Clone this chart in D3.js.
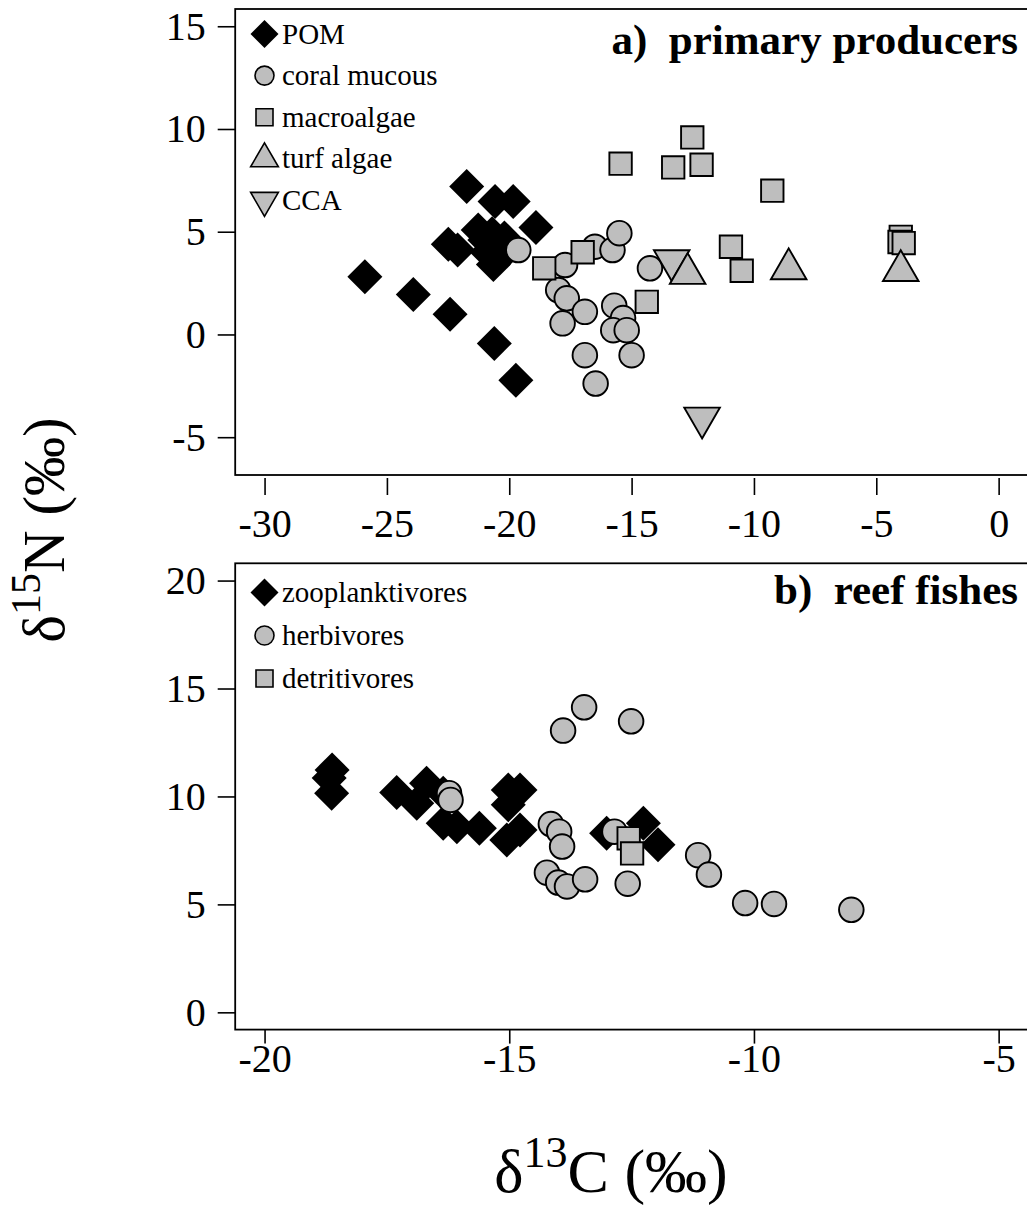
<!DOCTYPE html>
<html>
<head>
<meta charset="utf-8">
<script src="https://cdn.jsdelivr.net/npm/d3@7"></script>
<style>
body { margin: 0; background: #fff; }
svg { display: block; }
text { font-family: "Liberation Serif", "Times New Roman", serif; fill: #000; }
</style>
</head>
<body>
<svg id="chart" width="1027" height="1205"></svg>
<script>
// ---- panel a: primary producers (d13C, d15N) ----
var pom = [[-21.74, 7.20], [-20.58, 6.47], [-19.84, 6.47], [-18.91, 5.20], [-22.49, 4.39],
  [-22.11, 4.11], [-21.27, 5.09], [-21.0, 4.6], [-20.7, 4.9], [-20.4, 4.4], [-20.65, 3.4],
  [-20.2, 4.7], [-20.0, 4.2], [-20.9, 4.0], [-25.90, 2.81], [-23.92, 1.95], [-22.42, 0.98],
  [-20.61, -0.44], [-19.73, -2.23]];
var coralMucous = [[-19.63, 4.11], [-17.72, 3.38], [-18.0, 2.16], [-17.65, 1.76], [-17.82, 0.54],
  [-16.91, 1.10], [-16.91, -1.01], [-16.47, -2.39], [-16.5, 4.27], [-15.78, 4.11], [-15.5, 4.93],
  [-15.71, 1.40], [-15.35, 0.80], [-15.75, 0.21], [-15.2, 0.21], [-15.0, -1.01], [-14.25, 3.22]];
var macroalgae = [[-18.57, 3.22], [-17.0, 4.0], [-15.45, 8.31], [-12.52, 9.59], [-13.30, 8.13],
  [-12.14, 8.26], [-9.25, 7.0], [-10.94, 4.27], [-10.50, 3.10], [-14.38, 1.59],
  [-4.0, 4.75], [-4.05, 4.5], [-3.88, 4.45]];
var turfAlgae = [[-12.71, 2.96], [-8.58, 3.19], [-4.0, 3.10]];
var cca = [[-13.36, 3.60], [-12.12, -4.06]];

// ---- panel b: reef fishes ----
var zooplanktivores = [[-18.62, 11.23], [-18.68, 10.85], [-18.63, 10.15], [-17.30, 10.18],
  [-16.69, 10.61], [-16.89, 9.68], [-16.35, 10.15], [-16.35, 8.76], [-16.07, 8.6], [-15.61, 8.53],
  [-15.02, 10.30], [-14.78, 10.30], [-15.02, 9.61], [-14.78, 8.45], [-15.05, 7.98],
  [-13.01, 8.29], [-12.26, 8.76], [-11.96, 7.76]];
var herbivores = [[-13.47, 14.13], [-13.90, 13.05], [-12.51, 13.48], [-16.23, 10.15], [-16.20, 9.84],
  [-14.15, 8.72], [-13.98, 8.37], [-13.92, 7.68], [-14.23, 6.47], [-14.0, 6.01], [-13.82, 5.83],
  [-13.45, 6.16], [-12.85, 8.37], [-12.58, 5.96], [-11.14, 7.28], [-10.92, 6.38], [-10.18, 5.06],
  [-9.59, 5.02], [-8.01, 4.75]];
var detritivores = [[-12.56, 8.06], [-12.49, 7.36]];

var ticksXa = [-30, -25, -20, -15, -10, -5, 0];
var ticksYa = [-5, 0, 5, 10, 15];
var ticksXb = [-20, -15, -10, -5];
var ticksYb = [0, 5, 10, 15, 20];

var labelsA = ["POM", "coral mucous", "macroalgae", "turf algae", "CCA"];
var labelsB = ["zooplanktivores", "herbivores", "detritivores"];

// R-like symbol shapes (size argument is used as the radius)
var diamond = { draw: function(c, r) { c.moveTo(0, -r); c.lineTo(r, 0); c.lineTo(0, r); c.lineTo(-r, 0); c.closePath(); } };
var circle = { draw: function(c, r) { c.moveTo(r, 0); c.arc(0, 0, r, 0, 2 * Math.PI); } };
var square = { draw: function(c, r) { c.rect(-r, -r, 2 * r, 2 * r); } };
var triUp = { draw: function(c, r) { c.moveTo(0, -1.555 * r); c.lineTo(1.347 * r, 0.778 * r); c.lineTo(-1.347 * r, 0.778 * r); c.closePath(); } };
var triDown = { draw: function(c, r) { c.moveTo(0, 1.555 * r); c.lineTo(1.347 * r, -0.778 * r); c.lineTo(-1.347 * r, -0.778 * r); c.closePath(); } };

var grey = "#bebebe";
var styles = {
  pom: { type: diamond, r: 17.5, legendR: 14, fill: "#000", stroke: "none" },
  coral: { type: circle, r: 12.3, legendR: 9.5, fill: grey, stroke: "#000" },
  macro: { type: square, r: 11.2, legendR: 8.5, fill: grey, stroke: "#000" },
  turf: { type: triUp, r: 13.2, legendR: 10.3, fill: grey, stroke: "#000" },
  cca: { type: triDown, r: 13.2, legendR: 10.3, fill: grey, stroke: "#000" }
};

var svg = d3.select("#chart");
var left = 235.2, right = 1028;

function drawPanel(cfg) {
  var x = d3.scaleLinear().domain(cfg.xDomain).range([left, right]);
  var y = d3.scaleLinear().domain(cfg.yDomain).range([cfg.bottom, cfg.top]);
  var g = svg.append("g");

  g.append("g")
      .attr("transform", "translate(" + left + ",0)")
      .call(d3.axisLeft(y).tickValues(cfg.yTicks).tickSize(17.5).tickPadding(12).tickFormat(function(d) { return d; }))
      .call(function(a) {
        a.select(".domain").remove();
        a.selectAll("line").attr("stroke", "#000").attr("stroke-width", 1.6);
        a.selectAll("text").attr("font-size", 40).attr("font-family", "Liberation Serif");
      });

  g.append("g")
      .attr("transform", "translate(0," + (cfg.bottom + cfg.xGap) + ")")
      .call(d3.axisBottom(x).tickValues(cfg.xTicks).tickSize(cfg.xTick).tickPadding(cfg.xPad).tickFormat(function(d) { return d; }))
      .call(function(a) {
        a.select(".domain").remove();
        a.selectAll("line").attr("stroke", "#000").attr("stroke-width", 1.6);
        a.selectAll("text").attr("font-size", 40).attr("font-family", "Liberation Serif");
      });

  cfg.series.forEach(function(s) {
    var st = styles[s.style];
    g.append("g").selectAll("path")
      .data(s.data)
      .enter().append("path")
        .attr("transform", function(d) { return "translate(" + x(d[0]) + "," + y(d[1]) + ")"; })
        .attr("d", d3.symbol().type(st.type).size(st.r))
        .attr("fill", st.fill)
        .attr("stroke", st.stroke)
        .attr("stroke-width", 1.9);
  });

  // box
  g.append("rect")
      .attr("x", left).attr("y", cfg.top)
      .attr("width", right - left).attr("height", cfg.bottom - cfg.top)
      .attr("fill", "none").attr("stroke", "#000").attr("stroke-width", 1.8);

  // legend
  cfg.legend.forEach(function(l, i) {
    var st = styles[l.style];
    var cy = cfg.legendTop + i * cfg.legendStep;
    g.append("path")
        .attr("transform", "translate(264.5," + cy + ")")
        .attr("d", d3.symbol().type(st.type).size(st.legendR))
        .attr("fill", st.fill).attr("stroke", st.stroke).attr("stroke-width", 1.6);
    g.append("text")
        .attr("x", 282).attr("y", cy).attr("dy", "0.33em")
        .attr("font-size", 29)
        .text(l.label);
  });

  g.append("text")
      .attr("x", 1018).attr("y", cfg.titleY)
      .attr("text-anchor", "end")
      .attr("font-size", 43).attr("font-weight", "bold")
      .attr("xml:space", "preserve")
      .text(cfg.title);
}

drawPanel({
  top: 9, bottom: 475, xGap: 3, xTick: 17, xPad: 14,
  xDomain: [-31.2, 1.2], yDomain: [-6.84, 15.84],
  xTicks: ticksXa, yTicks: ticksYa,
  series: [
    { data: pom, style: "pom" },
    { data: coralMucous, style: "coral" },
    { data: macroalgae, style: "macro" },
    { data: cca, style: "cca" },
    { data: turfAlgae, style: "turf" }
  ],
  legend: labelsA.map(function(t, i) { return { label: t, style: ["pom", "coral", "macro", "turf", "cca"][i] }; }),
  legendTop: 34, legendStep: 41.6,
  title: "a)  primary producers", titleY: 54
});

drawPanel({
  top: 563.3, bottom: 1029.6, xGap: 0, xTick: 14, xPad: 0,
  xDomain: [-20.6, -4.4], yDomain: [-0.8, 20.8],
  xTicks: ticksXb, yTicks: ticksYb,
  series: [
    { data: zooplanktivores, style: "pom" },
    { data: herbivores, style: "coral" },
    { data: detritivores, style: "macro" }
  ],
  legend: labelsB.map(function(t, i) { return { label: t, style: ["pom", "coral", "macro"][i] }; }),
  legendTop: 592.5, legendStep: 43,
  title: "b)  reef fishes", titleY: 604
});

// axis titles
var xl = svg.append("text")
    .attr("x", 611).attr("y", 1192)
    .attr("text-anchor", "middle")
    .attr("font-size", 62);
xl.append("tspan").text("δ");
xl.append("tspan").attr("dy", -25).attr("font-size", 44).text("13");
xl.append("tspan").attr("dy", 25).text("C (‰)");

var yl = svg.append("text")
    .attr("transform", "translate(64,530) rotate(-90)")
    .attr("text-anchor", "middle")
    .attr("font-size", 59);
yl.append("tspan").text("δ");
yl.append("tspan").attr("dy", -24).attr("font-size", 42).text("15");
yl.append("tspan").attr("dy", 24).text("N (‰)");
</script>
</body>
</html>
